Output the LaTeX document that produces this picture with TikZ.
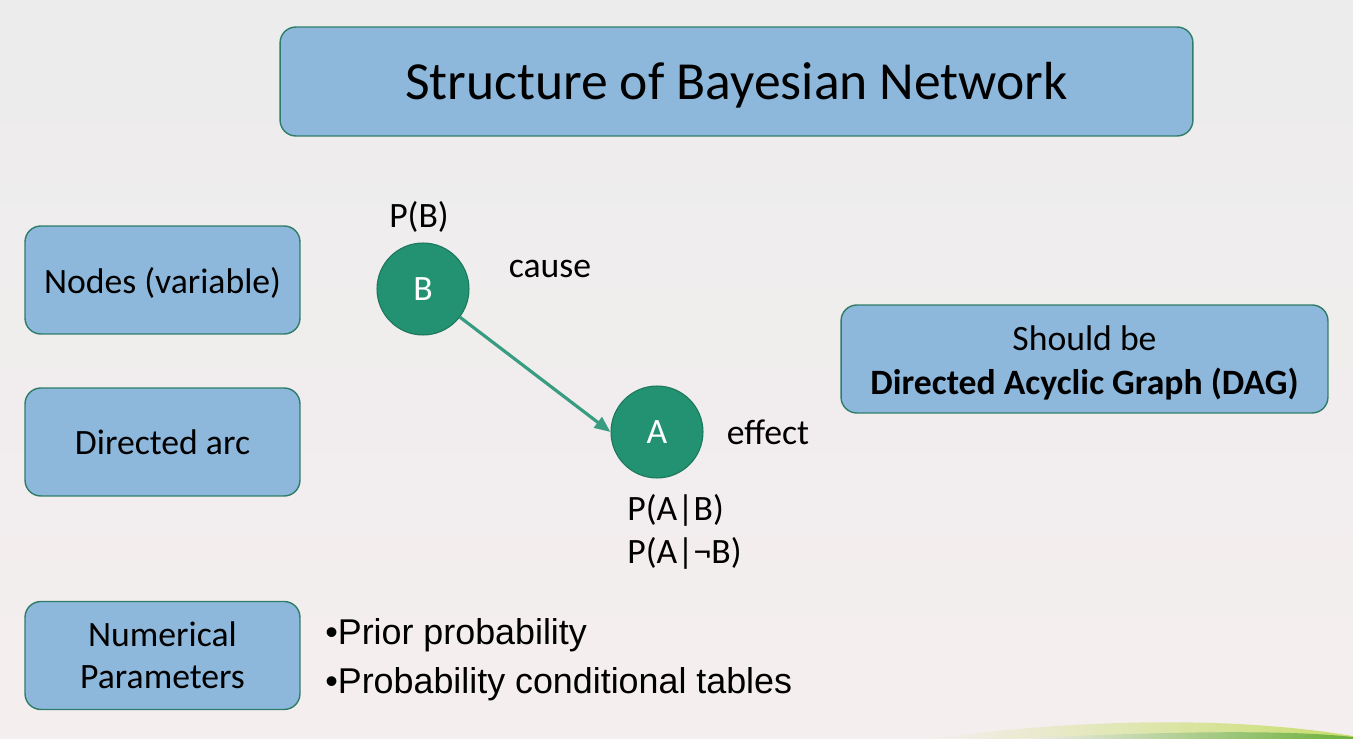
\documentclass[tikz,border=0pt]{standalone}
\usepackage{fontspec}
\setmainfont{Carlito}
\newfontfamily\bulletfont{Liberation Sans}
\usetikzlibrary{arrows.meta}
\definecolor{boxblue}{RGB}{141,184,219}
\definecolor{boxline}{RGB}{46,125,105}
\definecolor{nodegreen}{RGB}{34,146,114}
\definecolor{nodeline}{RGB}{28,118,90}
\definecolor{bgtop}{RGB}{236,236,237}
\definecolor{bgbot}{RGB}{245,238,238}
\definecolor{leafpale}{RGB}{200,222,110}
\definecolor{leafdark}{RGB}{108,176,58}
\newcommand{\slidefont}{\fontsize{20.3}{25}\selectfont}
\newcommand{\lowstrut}[1]{\rule{0pt}{#1}}
\tikzset{
  infobox/.style={draw=boxline, fill=boxblue, line width=0.8pt, rounded corners=9pt,
    minimum width=5.5cm, minimum height=2.16cm, align=center, font=\slidefont},
  varnode/.style={circle, draw=nodeline, fill=nodegreen, line width=0.6pt,
    minimum size=1.84cm, inner sep=0pt, text=white, font=\slidefont},
  lbl/.style={inner sep=0pt, font=\slidefont}
}

\begin{document}
\begin{tikzpicture}[x=0.02cm, y=-0.02cm]
\shade[top color=bgtop, bottom color=bgbot] (0,0) rectangle (1353,739);
\useasboundingbox (0,0) rectangle (1353,739);
\shade[left color=bgbot, right color=leafpale] (930,739) .. controls (1060,721) and (1220,714) .. (1353,736) -- (1353,739) -- cycle;
\shade[left color=bgbot, right color=leafdark] (1010,739) .. controls (1150,732) and (1280,729) .. (1353,737) -- (1353,739) -- cycle;

\node[infobox, minimum width=18.26cm, minimum height=2.18cm, font=\fontsize{30.5}{36}\selectfont] (title) at (736.5,81.5) {\lowstrut{0.82em}Structure of Bayesian Network};
\node[infobox] (nodesbox) at (162.5,280) {\lowstrut{0.92em}Nodes (variable)};
\node[infobox] (arcbox) at (162.5,442) {Directed arc};
\node[infobox, font=\fontsize{20.3}{24}\selectfont] (parambox) at (162.5,655.5) {Numerical\\Parameters};
\node[infobox, minimum width=9.74cm] (dagbox) at (1084.5,359) {\lowstrut{0.93em}Should be\\\textbf{Directed Acyclic Graph (DAG)}};

\node[varnode] (B) at (423,289) {B};
\node[varnode] (A) at (657,432) {A};
\draw[line width=1.8pt, nodegreen!90!white, -{Triangle[length=0.32cm, width=0.26cm]}] (B) -- (A.west);

\node[lbl] (pb) at (419,217) {P(B)};
\node[lbl] (cause) at (550,269) {cause};
\node[lbl] (effect) at (768,432) {effect};
\node[lbl, align=left, anchor=west, font=\fontsize{20.3}{24.5}\selectfont] (pab) at (627,532) {P(A|B)\\P(A|¬B)};

\node[inner sep=0pt, anchor=west, align=left, font=\bulletfont\fontsize{20.4}{27.8}\selectfont] (bullets) at (325,660) {•Prior probability\\•Probability conditional tables};
\end{tikzpicture}
\end{document}
